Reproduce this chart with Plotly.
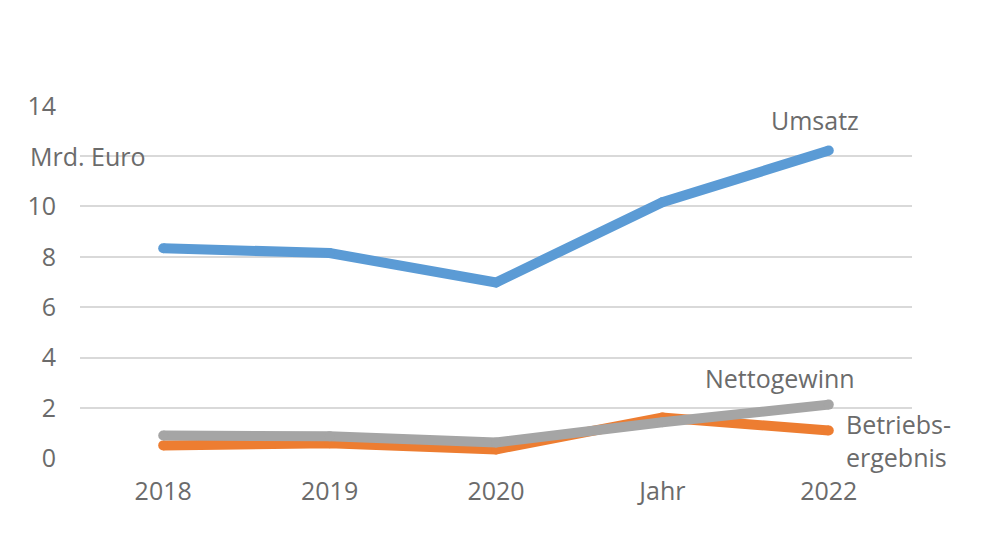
import plotly.graph_objects as go

years = ["2018", "2019", "2020", "2021", "2022"]
x_labels = ["2018", "2019", "2020", "Jahr", "2022"]
umsatz = [8.34, 8.15, 6.98, 10.17, 12.22]
betriebsergebnis = [0.51, 0.6, 0.35, 1.62, 1.1]
nettogewinn = [0.9, 0.87, 0.63, 1.43, 2.13]
y_ticks = [0, 2, 4, 6, 8, 10, 12, 14]
y_text = ["0", "2", "4", "6", "8", "10", "", "14"]

TEXT = "#6b6b6b"
FONT = "Open Sans"

fig = go.Figure()
for vals, color in [(betriebsergebnis, "#ED7D31"), (nettogewinn, "#A5A5A5"), (umsatz, "#5B9BD5")]:
    # markers give the rounded caps/joins of the original
    fig.add_trace(go.Scatter(x=years, y=vals, mode="lines+markers",
                             line=dict(color=color, width=10),
                             marker=dict(color=color, size=10, line=dict(width=0))))

fig.update_layout(
    width=1000,
    height=554,
    margin=dict(l=72, r=96, t=97, b=103),
    plot_bgcolor="white",
    paper_bgcolor="white",
    showlegend=False,
    font=dict(family=FONT, size=25, color=TEXT),
)
fig.update_xaxes(
    type="category",
    tickvals=years,
    ticktext=x_labels,
    range=[-0.5, 4.5],
    showgrid=False,
    showline=False,
    zeroline=False,
    ticks="outside",
    ticklen=10,
    tickcolor="white",
)
fig.update_yaxes(
    range=[-0.03, 14.03],
    tickvals=y_ticks,
    ticktext=y_text,
    gridcolor="#D9D9D9",
    gridwidth=1.5,
    zeroline=False,
    ticks="outside",
    ticklen=18,
    tickcolor="white",
)

fig.add_annotation(text="Mrd. Euro", xref="paper", yref="y", x=-0.062, y=12,
                   xanchor="left", yanchor="middle", showarrow=False)
fig.add_annotation(text="Umsatz", xref="x", yref="y", x=4, y=umsatz[-1],
                   xanchor="center", yanchor="middle", xshift=-14, yshift=31, showarrow=False)
fig.add_annotation(text="Nettogewinn", xref="x", yref="y", x=4, y=nettogewinn[-1],
                   xanchor="center", yanchor="middle", xshift=-49, yshift=27, showarrow=False)
fig.add_annotation(text="Betriebs-<br>ergebnis", xref="x", yref="y", x=4, y=betriebsergebnis[-1],
                   xanchor="left", yanchor="middle", align="left", xshift=15, yshift=-10, showarrow=False)

fig.write_html("out.html")
